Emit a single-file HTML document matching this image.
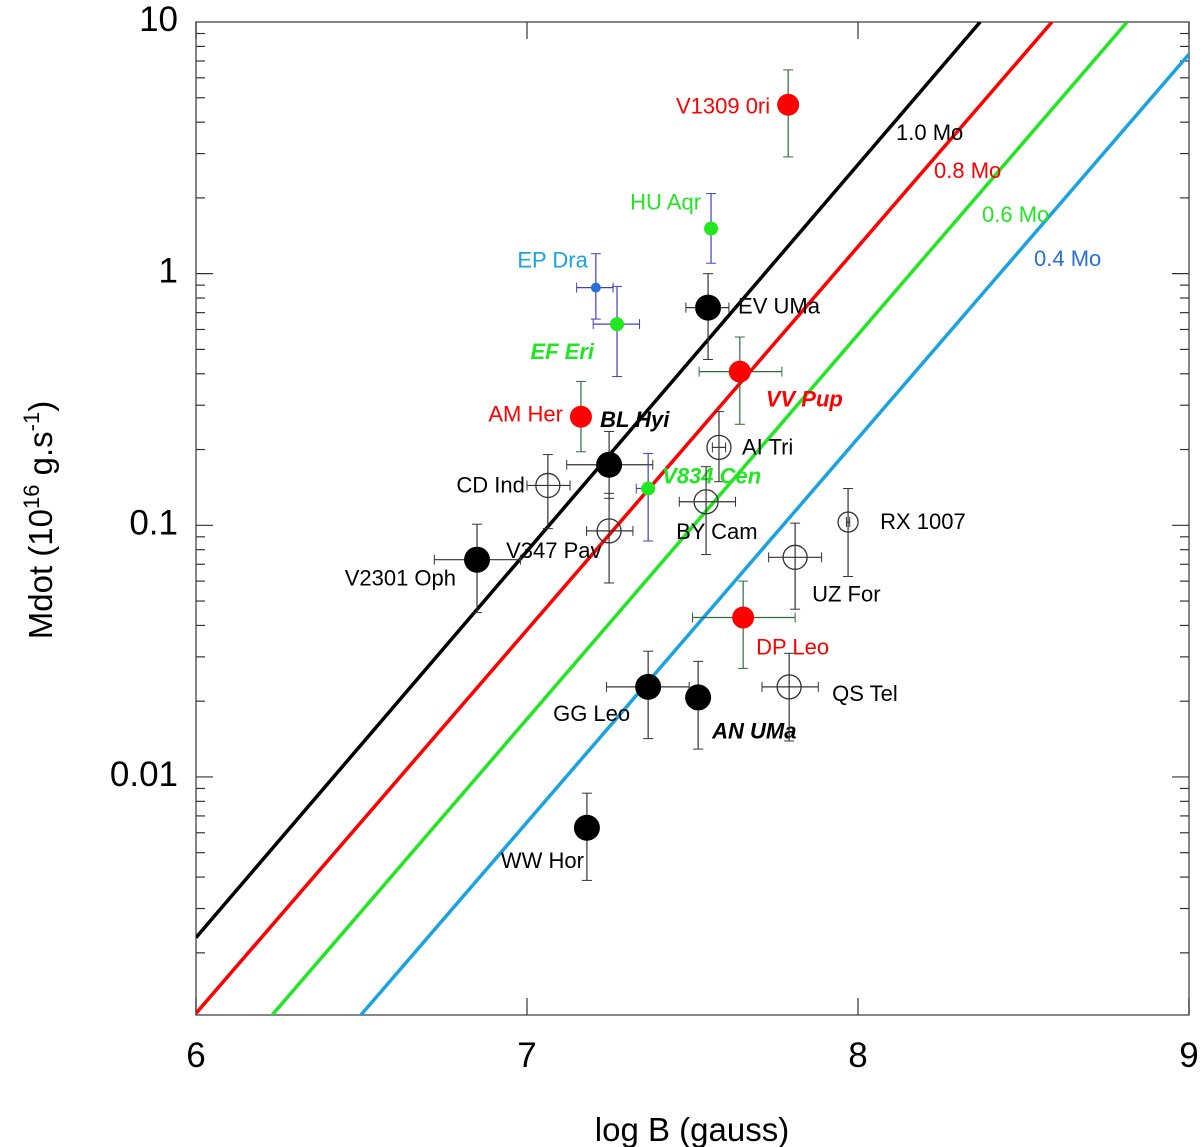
<!DOCTYPE html>
<html><head><meta charset="utf-8"><style>
body{margin:0;background:#fff}
svg{display:block;font-family:"Liberation Sans",sans-serif}
</style></head><body>
<svg id="chart" width="1200" height="1147" viewBox="0 0 1200 1147" xmlns="http://www.w3.org/2000/svg"></svg>
<script>
const xTicks=[6,7,8,9];
const yTicks=[0.01,0.1,1,10];
const yTickLabels=["0.01","0.1","1","10"];
const massLabels=["1.0 Mo","0.8 Mo","0.6 Mo","0.4 Mo"];
const massX0=[6,6,6.227,6.495];
const massY0=[0.0023,0.00115,0.00112,0.00112];
const massX1=[8.369,8.586,8.813,9];
const massY1=[10,10,10,7.45];
const massColors=["#000","#ff0000","#22e622","#1ba3e0"];
const massLabelColors=["#000","#ff0000","#22e622","#2a6fd6"];
const names=["V1309 0ri","HU Aqr","EP Dra","EF Eri","EV UMa","VV Pup","AM Her","AI Tri","BL Hyi","CD Ind","V834 Cen","BY Cam","V347 Pav","RX 1007","V2301 Oph","UZ For","DP Leo","GG Leo","AN UMa","QS Tel","WW Hor"];
const logB=[7.789,7.556,7.208,7.272,7.547,7.643,7.163,7.58,7.248,7.063,7.366,7.541,7.248,7.97,6.849,7.81,7.653,7.366,7.517,7.792,7.181];
const mdot=[4.69,1.51,0.88,0.63,0.733,0.408,0.27,0.204,0.174,0.144,0.14,0.124,0.095,0.103,0.073,0.0746,0.043,0.0228,0.0207,0.0228,0.00628];
const mdotHi=[6.45,2.08,1.2,0.89,1.0,0.56,0.373,0.283,0.236,0.191,0.193,0.171,0.134,0.14,0.101,0.102,0.06,0.0316,0.0288,0.031,0.00862];
const mdotLo=[2.91,1.1,0.66,0.39,0.456,0.252,0.196,0.149,0.128,0.097,0.0866,0.0765,0.059,0.0626,0.045,0.0464,0.027,0.0142,0.0129,0.0139,0.00388];
const bLo=[null,null,7.15,7.2,7.48,7.52,null,7.56,7.12,7.0,7.33,7.46,7.18,7.965,6.72,7.73,7.5,7.24,null,7.71,null];
const bHi=[null,null,7.26,7.34,7.61,7.77,null,7.6,7.38,7.13,7.38,7.63,7.32,7.975,6.98,7.89,7.81,7.49,null,7.88,null];
const kind=["red","greenS","blueS","greenS","black","red","red","open","black","open","greenS","open","open","openS","black","open","red","black","black","open","black"];
// label layout (not data)
const lblDx=[-18,-10,-8,-23,30,26,-18,23,-9,-23,14,-30,-103,32,-21,17,13,-18,14,43,-3];
const lblDy=[9,-19,-20,35,6,35,5,7,-38,7,-5,37,27,7,26,44,37,34,41,14,40];
const lblAnchor=["end","end","end","end","start","start","end","start","start","end","start","start","start","start","end","start","start","end","start","start","end"];
const lblStyle=["r","g","b","gbi","k","rbi","r","k","kbi","k","gbi","k","k","k","k","k","r","k","kbi","k","k"];

const L=196,R=1189,T=22,B=1015;
const X=v=>L+(v-6)*(R-L)/3;
const lt=1, lb=-2.946;
const Y=v=>T+(lt-Math.log10(v))*(B-T)/(lt-lb);
const svg=document.getElementById('chart');
const NS='http://www.w3.org/2000/svg';
function mk(tag,attrs,parent){const e=document.createElementNS(NS,tag);for(const k in attrs)e.setAttribute(k,attrs[k]);(parent||svg).appendChild(e);return e;}

const fr=mk('rect',{x:L,y:T,width:R-L,height:B-T,fill:'none',stroke:'#444','stroke-width':1.3});


const defs=mk('defs',{});const cp=mk('clipPath',{id:'pc'},defs);mk('rect',{x:L,y:T,width:R-L,height:B-T},cp);

for(let d=-3;d<=0;d++){for(let m=1;m<10;m++){const v=m*Math.pow(10,d);if(v<0.00113)continue;const y=Y(v);const len=m==1?17:9;
 mk('line',{x1:L,y1:y,x2:L+len,y2:y,stroke:'#333','stroke-width':1.2});mk('line',{x1:R,y1:y,x2:R-len,y2:y,stroke:'#333','stroke-width':1.2});}}
yTicks.forEach((v,i)=>{const t=mk('text',{x:178,y:Y(v)+9,'text-anchor':'end','font-size':35,fill:'#000'});t.textContent=yTickLabels[i];
 
 });
xTicks.forEach(v=>{const x=X(v);mk('line',{x1:x,y1:B,x2:x,y2:B-17,stroke:'#333','stroke-width':1.2});mk('line',{x1:x,y1:T,x2:x,y2:T+17,stroke:'#333','stroke-width':1.2});
 const t=mk('text',{x:x,y:1067,'text-anchor':'middle','font-size':35,fill:'#000'});t.textContent=String(v);
 
 });
const xt=mk('text',{x:692,y:1141,'text-anchor':'middle','font-size':33,fill:'#000'});xt.textContent='log B (gauss)';


const yt=mk('text',{transform:'translate(52,520) rotate(-90)','text-anchor':'middle','font-size':33,fill:'#000'});
yt.innerHTML='Mdot (10<tspan dy="-13" font-size="22">16</tspan><tspan dy="13"> g.s</tspan><tspan dy="-13" font-size="22">-1</tspan><tspan dy="13">)</tspan>';



const lg=mk('g',{'clip-path':'url(#pc)'});
massLabels.forEach((lab,i)=>{const ln=mk('line',{x1:X(massX0[i]),y1:Y(massY0[i]),x2:X(massX1[i]),y2:Y(massY1[i]),stroke:massColors[i],'stroke-width':3.5},lg);
 
 });
const mlx=[896,934,982,1034],mly=[140,178,222,266];
massLabels.forEach((lab,i)=>{const t=mk('text',{x:mlx[i],y:mly[i],'font-size':22,fill:massLabelColors[i]});t.textContent=lab;
 
 });

const ebColor={red:'#2e6b3a',greenS:'#4040c0',blueS:'#4040c0',black:'#333',open:'#333',openS:'#333'};
const lc={r:'#ff0000',g:'#22e622',b:'#1ba3e0',k:'#000'};
names.forEach((n,i)=>{const g=mk('g',{});
 
 const x=X(logB[i]),y=Y(mdot[i]),c=ebColor[kind[i]];
 mk('line',{x1:x,y1:Y(mdotHi[i]),x2:x,y2:Y(mdotLo[i]),stroke:c,'stroke-width':1.2},g);
 mk('line',{x1:x-5,y1:Y(mdotHi[i]),x2:x+5,y2:Y(mdotHi[i]),stroke:c},g);
 mk('line',{x1:x-5,y1:Y(mdotLo[i]),x2:x+5,y2:Y(mdotLo[i]),stroke:c},g);
 if(bLo[i]!==null){mk('line',{x1:X(bLo[i]),y1:y,x2:X(bHi[i]),y2:y,stroke:c,'stroke-width':1.2},g);
  mk('line',{x1:X(bLo[i]),y1:y-5,x2:X(bLo[i]),y2:y+5,stroke:c},g);mk('line',{x1:X(bHi[i]),y1:y-5,x2:X(bHi[i]),y2:y+5,stroke:c},g);}
 const k=kind[i];
 if(k=='red')mk('circle',{cx:x,cy:y,r:11,fill:'#ff0000'},g);
 else if(k=='black')mk('circle',{cx:x,cy:y,r:13,fill:'#000'},g);
 else if(k=='greenS')mk('circle',{cx:x,cy:y,r:7,fill:'#22e622'},g);
 else if(k=='blueS')mk('circle',{cx:x,cy:y,r:5,fill:'#2a6fd6'},g);
 else if(k=='open')mk('circle',{cx:x,cy:y,r:12,fill:'none',stroke:'#333','stroke-width':1.3},g);
 else mk('circle',{cx:x,cy:y,r:10,fill:'none',stroke:'#333','stroke-width':1.3},g);
 const s=lblStyle[i];
 const t=mk('text',{x:x+lblDx[i],y:y+lblDy[i],'text-anchor':lblAnchor[i],'font-size':22,fill:lc[s[0]]},g);
 if(s.length>1){t.setAttribute('font-weight','bold');t.setAttribute('font-style','italic');}
 t.textContent=n;});
</script>
</body></html>
